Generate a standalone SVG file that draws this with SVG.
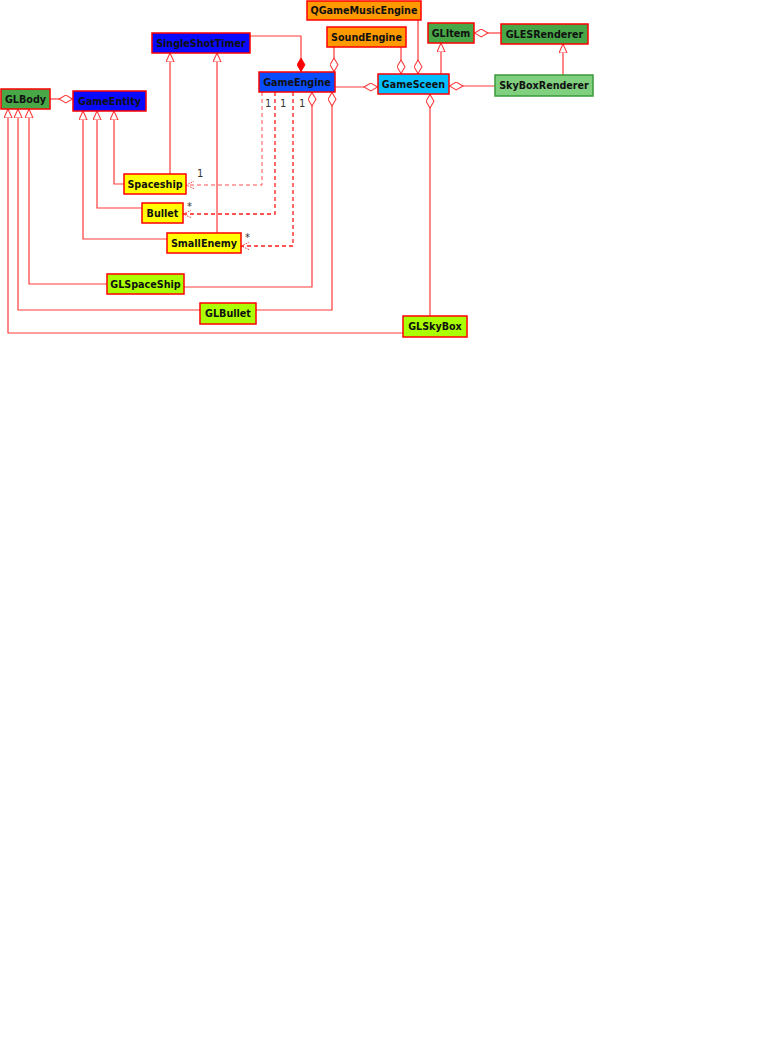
<svg xmlns="http://www.w3.org/2000/svg" width="764" height="1050" viewBox="0 0 764 1050">
<style>
.n rect{stroke:#ff0000;stroke-width:1.5}
.n text{font-family:"DejaVu Sans",sans-serif;font-weight:bold;font-size:9.6px;fill:#111;text-anchor:middle;dominant-baseline:central}
.c path{fill:none;stroke:#ff3a3a;stroke-width:1.2}
.c path.d{stroke-dasharray:4,3;stroke:#ff1a1a;stroke-width:1.3}
.c path.dl{stroke-dasharray:4,3;stroke:#ff5050;stroke-width:1}
.lbl{font-family:"DejaVu Sans",sans-serif;font-size:10px;fill:#333}
</style>
<defs>
<marker id="tri" viewBox="0 0 10 10" refX="10" refY="5" markerWidth="9" markerHeight="9" markerUnits="userSpaceOnUse" orient="auto"><path d="M0,0.5 L10,5 L0,9.5 z" fill="#fff" stroke="#ff3a3a" stroke-width="1.2"/></marker>
<marker id="dia" viewBox="0 0 16 10" refX="16" refY="5" markerWidth="15" markerHeight="9" markerUnits="userSpaceOnUse" orient="auto"><path d="M0.5,5 L8,0.6 L15.5,5 L8,9.4 z" fill="#fff" stroke="#ff3a3a" stroke-width="1.2"/></marker>
<marker id="fdia" viewBox="0 0 16 10" refX="16" refY="5" markerWidth="15" markerHeight="9" markerUnits="userSpaceOnUse" orient="auto"><path d="M0.5,5 L8,0.6 L15.5,5 L8,9.4 z" fill="#ff0000" stroke="#ff0000" stroke-width="1"/></marker>
<marker id="arr" viewBox="0 0 10 10" refX="10" refY="5" markerWidth="8" markerHeight="8" markerUnits="userSpaceOnUse" orient="auto"><path d="M0,0.5 L10,5 L0,9.5" fill="none" stroke="#ff3a3a" stroke-width="1.2" stroke-dasharray="2,1.5"/></marker>
</defs>
<g id="connectors" class="c">
<path d="M50,99 L73,99" marker-end="url(#dia)"/>
<path d="M403,333 L8,333 L8,109" marker-end="url(#tri)"/>
<path d="M200,310 L18,310 L18,109" marker-end="url(#tri)"/>
<path d="M107,284 L29,284 L29,109" marker-end="url(#tri)"/>
<path d="M167,239 L83,239 L83,111" marker-end="url(#tri)"/>
<path d="M142,208 L97,208 L97,111" marker-end="url(#tri)"/>
<path d="M124,184 L114,184 L114,111" marker-end="url(#tri)"/>
<path d="M170,174 L170,53" marker-end="url(#tri)"/>
<path d="M217,233 L217,53" marker-end="url(#tri)"/>
<path d="M250,36 L301,36 L301,72" marker-end="url(#fdia)"/>
<path class="dl" d="M262,92 L262,185 L186,185" marker-end="url(#arr)"/>
<path class="d" d="M275,92 L275,214 L183,214" marker-end="url(#arr)"/>
<path class="d" d="M293,92 L293,246 L241,246" marker-end="url(#arr)"/>
<path d="M184,287 L312,287 L312,92" marker-end="url(#dia)"/>
<path d="M256,310 L332,310 L332,92" marker-end="url(#dia)"/>
<path d="M334,47 L334,72" marker-end="url(#dia)"/>
<path d="M335,87 L378,87" marker-end="url(#dia)"/>
<path d="M401,47 L401,74" marker-end="url(#dia)"/>
<path d="M418,20 L418,74" marker-end="url(#dia)"/>
<path d="M441,74 L441,43" marker-end="url(#tri)"/>
<path d="M501,33 L474,33" marker-end="url(#dia)"/>
<path d="M563,75 L563,44" marker-end="url(#tri)"/>
<path d="M495,86 L449,86" marker-end="url(#dia)"/>
<path d="M430,316 L430,94" marker-end="url(#dia)"/>
<text class="lbl" x="197" y="177">1</text>
<text class="lbl" x="265" y="107">1</text>
<text class="lbl" x="280" y="107">1</text>
<text class="lbl" x="299" y="107">1</text>
<text class="lbl" x="187" y="210">*</text>
<text class="lbl" x="245" y="241">*</text>
</g>
<g id="GLBody" class="n"><rect x="1" y="89" width="49" height="20" fill="#48a848"/><text x="25.5" y="99">GLBody</text></g>
<g id="GameEntity" class="n"><rect x="73" y="91" width="73" height="20" fill="#0a0aff"/><text x="109.5" y="101">GameEntity</text></g>
<g id="SingleShotTimer" class="n"><rect x="152" y="33" width="98" height="20" fill="#0a0aff"/><text x="201" y="43">SingleShotTimer</text></g>
<g id="GameEngine" class="n"><rect x="259" y="72" width="76" height="20" fill="#0a4cff"/><text x="297" y="82">GameEngine</text></g>
<g id="QGameMusicEngine" class="n"><rect x="307" y="1" width="114" height="19" fill="#ff9900"/><text x="364" y="10.5">QGameMusicEngine</text></g>
<g id="SoundEngine" class="n"><rect x="327" y="27" width="79" height="20" fill="#ff9900"/><text x="366.5" y="37">SoundEngine</text></g>
<g id="GLItem" class="n"><rect x="428" y="23" width="46" height="20" fill="#48a848"/><text x="451" y="33">GLItem</text></g>
<g id="GLESRenderer" class="n"><rect x="501" y="24" width="87" height="20" fill="#48a848"/><text x="544.5" y="34">GLESRenderer</text></g>
<g id="GameSceen" class="n"><rect x="378" y="74" width="71" height="20" fill="#00bfff"/><text x="413.5" y="84">GameSceen</text></g>
<g id="SkyBoxRenderer" class="n"><rect x="495" y="75" width="98" height="21" fill="#80d080" style="stroke:#3a9a3a"/><text x="544" y="85.5">SkyBoxRenderer</text></g>
<g id="Spaceship" class="n"><rect x="124" y="174" width="62" height="20" fill="#ffff00"/><text x="155" y="184">Spaceship</text></g>
<g id="Bullet" class="n"><rect x="142" y="203" width="41" height="20" fill="#ffff00"/><text x="162.5" y="213">Bullet</text></g>
<g id="SmallEnemy" class="n"><rect x="167" y="233" width="74" height="20" fill="#ffff00"/><text x="204" y="243">SmallEnemy</text></g>
<g id="GLSpaceShip" class="n"><rect x="107" y="274" width="77" height="20" fill="#aaff00"/><text x="145.5" y="284">GLSpaceShip</text></g>
<g id="GLBullet" class="n"><rect x="200" y="303" width="56" height="21" fill="#aaff00"/><text x="228" y="313.5">GLBullet</text></g>
<g id="GLSkyBox" class="n"><rect x="403" y="316" width="64" height="21" fill="#aaff00"/><text x="435" y="326.5">GLSkyBox</text></g>
</svg>
